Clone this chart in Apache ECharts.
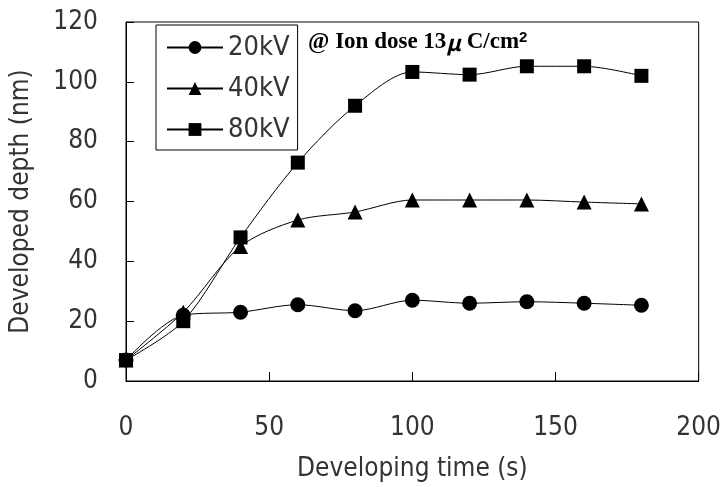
<!DOCTYPE html>
<html>
<head>
<meta charset="utf-8">
<script src="https://cdn.jsdelivr.net/npm/echarts@6/dist/echarts.min.js"></script>
<style>
  html, body { margin: 0; padding: 0; background: #fff; }
  #chart { width: 724px; height: 487px; }
</style>
</head>
<body>
<div id="chart"></div>
<script>
// developing time (s)
const times = [0, 20, 40, 60, 80, 100, 120, 140, 160, 180];
// developed depth (nm) per accelerating voltage
const depth20kV = [7, 22, 23, 25.5, 23.5, 27, 26, 26.5, 26, 25.3];
const depth40kV = [7, 23, 45, 53.8, 56.5, 60.5, 60.5, 60.5, 59.8, 59.2];
const depth80kV = [7, 20, 48, 73, 92, 103.3, 102.4, 105.2, 105.2, 102];
const seriesNames = ["20kV", "40kV", "80kV"];
const xTicks = [0, 50, 100, 150, 200];
const yTicks = [0, 20, 40, 60, 80, 100, 120];

const font = "'DejaVu Sans Condensed', 'DejaVu Sans', sans-serif";
const chart = echarts.init(document.getElementById("chart"));

function pairs(ys) {
  return times.map((t, i) => [t, ys[i]]);
}

function makeSeries(name, ys, symbol, size) {
  return {
    name: name,
    type: "line",
    data: pairs(ys),
    smooth: 0.3,
    symbol: symbol,
    symbolSize: size,
    itemStyle: { color: "#000" },
    lineStyle: { color: "#000", width: 1 },
    animation: false,
  };
}

const option = {
  animation: false,
  grid: {
    left: 123,
    right: 24,
    top: 22,
    bottom: 104,
    show: true,
    borderColor: "#000",
    borderWidth: 1,
  },
  legend: {
    orient: "vertical",
    left: 156,
    top: 25,
    width: 145,
    padding: [9, 8, 7, 10],
    itemWidth: 56,
    itemHeight: 16,
    itemGap: 14,
    borderColor: "#000",
    borderWidth: 1,
    textStyle: { fontFamily: font, fontSize: 27, color: "#333" },
    data: seriesNames,
  },
  xAxis: {
    type: "value",
    min: xTicks[0],
    max: xTicks[xTicks.length - 1],
    interval: 50,
    name: "Developing time (s)",
    nameLocation: "middle",
    nameGap: 75,
    nameTextStyle: { fontFamily: font, fontSize: 26, color: "#333" },
    axisLine: { lineStyle: { color: "#000", width: 1 } },
    axisTick: { inside: true, length: 9, lineStyle: { color: "#000" } },
    axisLabel: { margin: 34, fontFamily: font, fontSize: 26, color: "#333" },
    splitLine: { show: false },
  },
  yAxis: {
    type: "value",
    min: yTicks[0],
    max: yTicks[yTicks.length - 1],
    interval: 20,
    name: "Developed depth (nm)",
    nameLocation: "middle",
    nameGap: 92,
    nameTextStyle: { fontFamily: font, fontSize: 26, color: "#333" },
    axisLine: { show: true, lineStyle: { color: "#000", width: 1 } },
    axisTick: { show: true, inside: true, length: 8, lineStyle: { color: "#000" } },
    axisLabel: { margin: 28, fontFamily: font, fontSize: 26, color: "#333" },
    splitLine: { show: false },
  },
  graphic: [
    {
      type: "text",
      left: 308,
      top: 30,
      style: {
        text: "@ Ion dose 13{mu|μ} C/cm{sup|2}",
        fontFamily: "'Liberation Serif', 'DejaVu Serif', serif",
        fontWeight: "bold",
        fontSize: 23,
        fill: "#000",
        rich: {
          mu: { fontFamily: "'Noto Sans CJK JP'", fontSize: 22, fontStyle: "italic", fontWeight: "bold" },
          sup: { fontSize: 15, fontWeight: "bold", verticalAlign: "top", padding: [0, 0, 10, 0] },
        },
      },
    },
  ],
  series: [
    makeSeries(seriesNames[0], depth20kV, "circle", 15),
    makeSeries(seriesNames[1], depth40kV, "triangle", 15),
    makeSeries(seriesNames[2], depth80kV, "rect", 14),
  ],
};

chart.setOption(option);
</script>
</body>
</html>
